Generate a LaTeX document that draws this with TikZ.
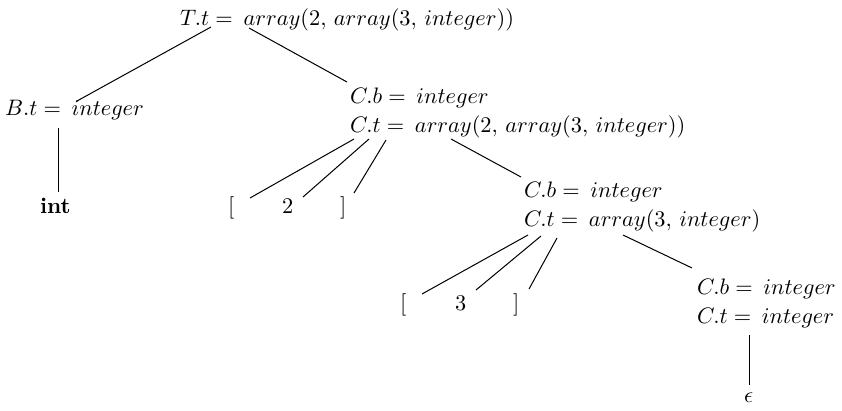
\documentclass[tikz,border=0pt]{standalone}
\usetikzlibrary{calc}
\newcommand{\EQ}{=\hspace{2pt}}
\begin{document}
\begin{tikzpicture}[x=0.447pt,y=-0.447pt,
  lbl/.style={anchor=base west,inner sep=0pt,outer sep=0pt},
  edge/.style={line width=0.45pt}]
\useasboundingbox (0,0) rectangle (842,410);
% nodes
\node[lbl] (T) at (180,25) {$T.t \EQ array(2,\, array(3,\, integer))$};
\node[lbl] (B) at (5,115) {$B.t \EQ integer$};
\node[lbl] (int) at (40,213) {\textbf{int}};
\node[lbl] (C1) at (350,103) {\begin{tabular}[t]{@{}l@{}}$C.b \EQ integer$\\[1pt]$C.t \EQ array(2,\, array(3,\, integer))$\end{tabular}};
\node[lbl] (lb1) at (228,213) {[};
\node[lbl] (n2) at (282,213) {2};
\node[lbl] (rb1) at (340,213) {]};
\node[lbl] (C2) at (524,197) {\begin{tabular}[t]{@{}l@{}}$C.b \EQ integer$\\[1pt]$C.t \EQ array(3,\, integer)$\end{tabular}};
\node[lbl] (lb2) at (400,310) {[};
\node[lbl] (n3) at (455,310) {3};
\node[lbl] (rb2) at (513,310) {]};
\node[lbl] (C3) at (697,294) {\begin{tabular}[t]{@{}l@{}}$C.b \EQ integer$\\[1pt]$C.t \EQ integer$\end{tabular}};
\node[lbl] (eps) at (744,402) {$\epsilon$};
% connectors
\draw[edge] ($(T.base west)+(31,2)$) -- ($(B.base west)+(72,-14)$);
\draw[edge] ($(T.base west)+(69,3)$) -- ($(C1.base west)+(-3,-21)$);
\draw[edge] ($(B.base west)+(53.5,13)$) -- ($(int.base west)+(18.5,-21)$);
\draw[edge] ($(C1.base west)+(4,36)$) -- ($(lb1.base west)+(22,-15)$);
\draw[edge] ($(C1.base west)+(19,36)$) -- ($(n2.base west)+(21,-16)$);
\draw[edge] ($(C1.base west)+(36,37)$) -- ($(rb1.base west)+(14,-20)$);
\draw[edge] ($(C1.base west)+(101,36)$) -- ($(C2.base west)+(-3,-20)$);
\draw[edge] ($(C2.base west)+(4,38)$) -- ($(lb2.base west)+(22,-16)$);
\draw[edge] ($(C2.base west)+(17,39)$) -- ($(n3.base west)+(21,-20)$);
\draw[edge] ($(C2.base west)+(33,41)$) -- ($(rb2.base west)+(16,-21)$);
\draw[edge] ($(C2.base west)+(99,38)$) -- ($(C3.base west)+(-5,-26)$);
\draw[edge] ($(C3.base west)+(52.5,41)$) -- ($(eps.base west)+(5.5,-17)$);
\end{tikzpicture}
\end{document}
